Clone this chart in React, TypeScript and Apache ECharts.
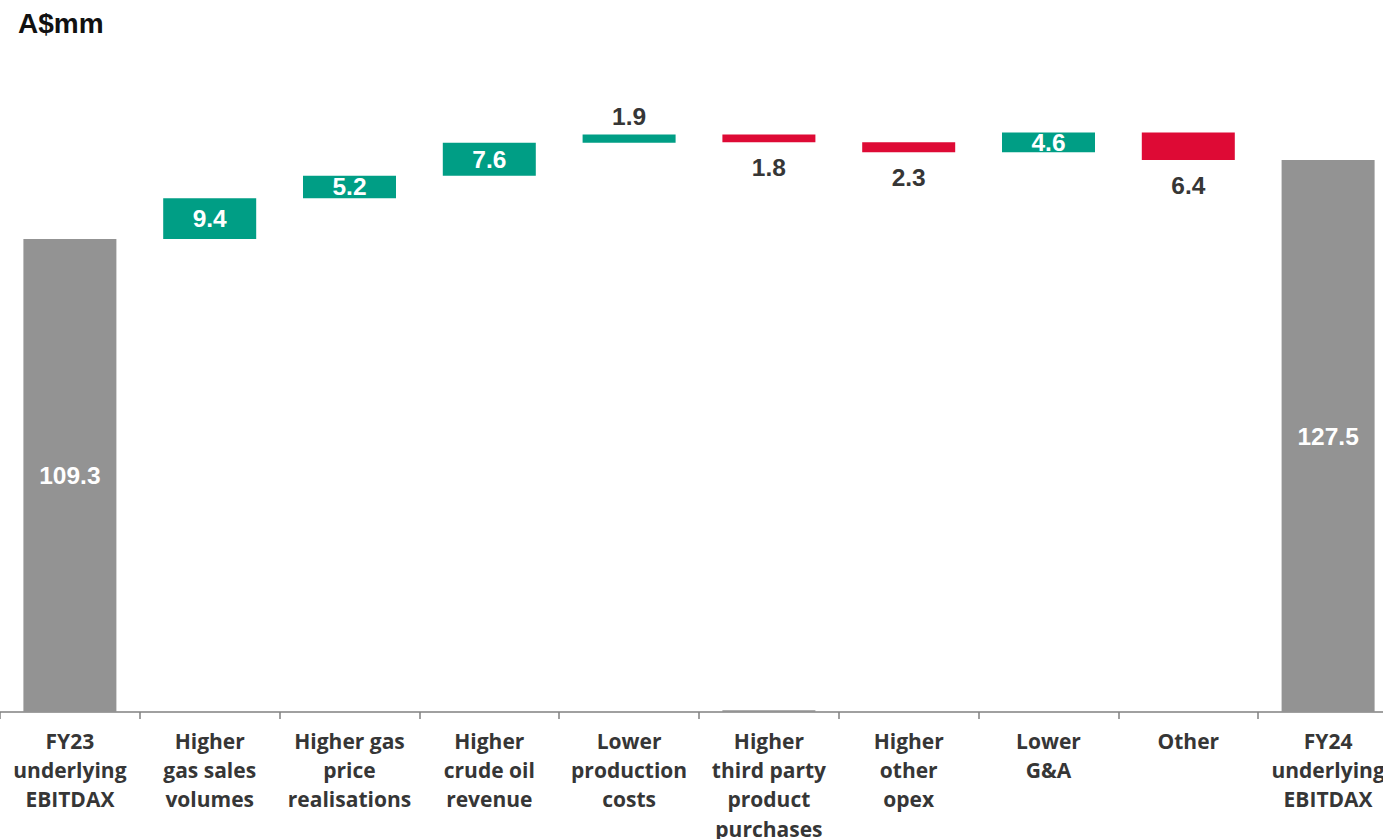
import React, { useEffect, useRef } from "react";
import * as echarts from "echarts";

const categories = [
  "FY23\nunderlying\nEBITDAX",
  "Higher\ngas sales\nvolumes",
  "Higher gas\nprice\nrealisations",
  "Higher\ncrude oil\nrevenue",
  "Lower\nproduction\ncosts",
  "Higher\nthird party\nproduct\npurchases",
  "Higher\nother\nopex",
  "Lower\nG&A",
  "Other",
  "FY24\nunderlying\nEBITDAX",
];
// kind: total / change
const kinds = ["total", "change", "change", "change", "change", "change", "change", "change", "change", "total"];
const values = [109.3, 9.4, 5.2, 7.6, 1.9, -1.8, -2.3, 4.6, -6.4, 127.5];
// thin grey base marker under "Higher third party product purchases"
const baseMarker = ["-", "-", "-", "-", "-", 0.4, "-", "-", "-", "-"];
// labels drawn outside the bar (too thin)
const outsideLabel = [false, false, false, false, true, true, true, false, true, false];

const GREEN = "#009E85";
const RED = "#DE0A35";
const GREY = "#939393";
const TEXT = "#363636";

export default function App() {
  const ref = useRef<HTMLDivElement>(null);
  useEffect(() => {
    if (!ref.current) return;
    const chart = echarts.init(ref.current, undefined, { renderer: "svg" });

    const base: any[] = [];
    const up: any[] = [];
    const down: any[] = [];
    const totals: any[] = [];
    let cum = 0;
    const lblFont = { fontFamily: "Liberation Sans, Arial, sans-serif", fontSize: 24.5, fontWeight: "bold" };
    values.forEach((v, i) => {
      if (kinds[i] === "total") {
        cum = v;
        base.push("-");
        up.push("-");
        down.push("-");
        totals.push({
          value: v,
          label: { show: true, position: "inside", color: "#fff", ...lblFont, formatter: v.toFixed(1) },
        });
      } else if (v >= 0) {
        base.push(cum);
        up.push({
          value: v,
          label: outsideLabel[i]
            ? { show: true, position: "top", distance: 6, color: TEXT, ...lblFont, formatter: v.toFixed(1) }
            : { show: true, position: "inside", color: "#fff", ...lblFont, formatter: v.toFixed(1) },
        });
        down.push("-");
        totals.push("-");
        cum += v;
      } else {
        cum += v;
        base.push(cum);
        up.push("-");
        down.push({
          value: -v,
          label: { show: true, position: "bottom", distance: 13, color: TEXT, ...lblFont, formatter: (-v).toFixed(1) },
        });
        totals.push("-");
      }
    });

    chart.setOption({
      animation: false,
      backgroundColor: "#ffffff",
      title: {
        text: "A$mm",
        left: 13,
        top: 4,
        textStyle: { fontFamily: "Liberation Sans, Arial, sans-serif", fontSize: 28, fontWeight: "bold", color: "#111" },
      },
      grid: { left: 0, top: 106, width: 1398, height: 606, containLabel: false, outerBoundsMode: "none" },
      xAxis: {
        type: "category",
        data: categories,
        axisLine: { lineStyle: { color: "#808080", width: 1.5 } },
        axisTick: { show: true, interval: 0, length: 7, lineStyle: { color: "#808080", width: 1.5 } },
        axisLabel: {
          interval: 0,
          margin: 14,
          fontFamily: "'Open Sans', 'Noto Sans', sans-serif",
          fontSize: 21,
          fontWeight: "bold",
          color: TEXT,
          lineHeight: 29.3,
        },
      },
      yAxis: {
        type: "value",
        min: 0,
        max: 140,
        show: false,
        splitLine: { show: false },
      },
      series: [
        {
          type: "bar",
          stack: "w",
          data: base,
          barWidth: 93,
          itemStyle: { color: "transparent" },
          silent: true,
        },
        { type: "bar", stack: "w", data: up, barWidth: 93, itemStyle: { color: GREEN } },
        { type: "bar", stack: "w", data: down, barWidth: 93, itemStyle: { color: RED } },
        { type: "bar", stack: "w", data: totals, barWidth: 93, itemStyle: { color: GREY } },
        { type: "bar", stack: "m", data: baseMarker, barWidth: 93, barGap: "-100%", itemStyle: { color: GREY }, silent: true },
      ],
    });
    return () => chart.dispose();
  }, []);
  return (
    <div
      ref={ref}
      style={{ position: "absolute", left: 0, top: 0, width: 1383, height: 839 }}
    />
  );
}
